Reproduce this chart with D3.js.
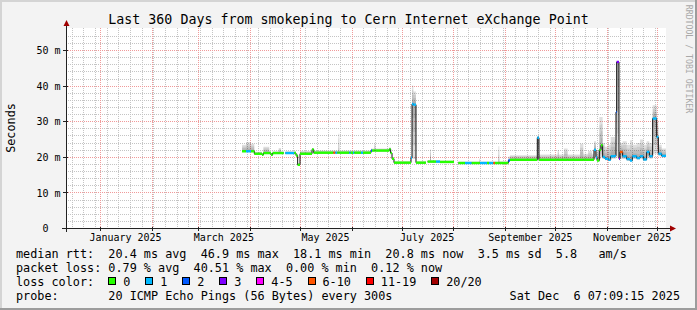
<!DOCTYPE html>
<html lang="en">
<head>
<meta charset="utf-8">
<title>smokeping</title>
<script src="https://d3js.org/d3.v7.min.js"></script>
<style>
  body { margin: 0; background: #fff; }
  text { font-family: "DejaVu Sans Mono", monospace; fill: #000; }
</style>
</head>
<body>
<script>
// data: sample start time, median rtt (ms), loss class, smoke extent (ms)
const dates = [
  "2025-03-26T22", "2025-03-29T07", "2025-04-01T07", "2025-04-03T07", "2025-04-07T22",
  "2025-04-08T17", "2025-04-12T07", "2025-04-13T07", "2025-04-14T07", "2025-04-17T22",
  "2025-04-19T07", "2025-04-20T22", "2025-04-21T22", "2025-04-27T07", "2025-04-28T07",
  "2025-04-29T07", "2025-04-30T17", "2025-05-07T22", "2025-05-08T22", "2025-05-20T17",
  "2025-05-21T22", "2025-05-23T02", "2025-05-23T17", "2025-05-24T07", "2025-05-30T07",
  "2025-05-31T02", "2025-06-01T12", "2025-06-02T07", "2025-06-06T07", "2025-06-07T12",
  "2025-06-12T07", "2025-06-12T22", "2025-06-14T07", "2025-06-14T22", "2025-06-23T07",
  "2025-06-24T02", "2025-06-24T22", "2025-06-26T02", "2025-07-06T07", "2025-07-06T22",
  "2025-07-07T17", "2025-07-09T07", "2025-07-15T07", "2025-07-16T07", "2025-07-17T17",
  "2025-07-18T07", "2025-07-21T07", "2025-07-23T17", "2025-08-01T02", "2025-08-03T17",
  "2025-08-07T17", "2025-08-11T17", "2025-08-16T07", "2025-08-16T17", "2025-08-20T22",
  "2025-08-22T02", "2025-08-24T17", "2025-08-25T17", "2025-08-27T17", "2025-08-28T07",
  "2025-09-02T17", "2025-09-03T17", "2025-09-20T02", "2025-09-21T02", "2025-10-02T07",
  "2025-10-03T02", "2025-10-06T02", "2025-10-08T07", "2025-10-15T17", "2025-10-17T17",
  "2025-10-20T12", "2025-10-22T22", "2025-10-24T02", "2025-10-25T07", "2025-10-25T22",
  "2025-10-27T07", "2025-10-28T07", "2025-10-29T07", "2025-10-30T17", "2025-11-01T17",
  "2025-11-03T02", "2025-11-05T17", "2025-11-06T07", "2025-11-06T17", "2025-11-08T02",
  "2025-11-08T17", "2025-11-10T07", "2025-11-12T17", "2025-11-14T17", "2025-11-16T02",
  "2025-11-18T17", "2025-11-20T17", "2025-11-22T17", "2025-11-24T17", "2025-11-26T07",
  "2025-11-28T07", "2025-11-30T17", "2025-12-01T17", "2025-12-03T17"
]
const median = [
  21.7, 21.7, 21.7, 21.0, 20.7, 21.2, 21.2, 20.7, 21.2, 21.2,
  21.2, null, 21.2, 21.2, 20.5, 17.9, 21.0, 22.2, 21.3, 21.3,
  21.3, 21.3, 21.3, 21.3, 21.3, 21.3, 21.3, 21.3, 21.3, 21.3,
  21.9, 21.9, 21.9, 21.9, 22.3, 21.2, 19.6, 18.5, 19.9, 35.0,
  34.8, 18.5, null, 18.8, 18.8, 18.8, 18.8, 18.7, null, 18.4,
  18.4, 18.4, 18.4, 18.4, 18.4, 18.4, 18.4, 18.4, 18.4, 18.4,
  19.1, 19.3, 25.5, 19.3, 19.3, 19.3, 19.3, 19.3, 19.3, 19.3,
  19.3, 19.3, 22.1, 20.0, 19.1, 22.1, 23.4, 20.1, 19.6, 19.3,
  20.3, 20.4, 32.7, 46.8, 19.6, 21.5, 20.3, 19.5, 19.1, 20.3,
  19.8, 20.3, 19.4, 21.5, 20.3, 30.9, 25.7, 21.0, 20.4
]
const loss = [
  0, 1, 0, 0, 0, 0, 0, 0, 0, 0,
  0, 0, 1, 0, 0, 0, 0, 0, 0, 5,
  1, 0, 0, 0, 1, 0, 1, 0, 1, 0,
  2, 0, 0, 0, 0, 0, 0, 0, 1, 1,
  1, 0, 0, 0, 0, 0, 1, 0, 0, 0,
  1, 0, 0, 1, 0, 1, 5, 0, 0, 0,
  2, 0, 1, 0, 0, 0, 0, 0, 0, 0,
  0, 0, 1, 1, 0, 0, 0, 1, 1, 1,
  1, 1, 2, 3, 3, 5, 1, 1, 1, 1,
  1, 1, 1, 1, 1, 1, 1, 1, 1
]
const smokeLow = [
  21.4, 21.4, 21.4, 20.7, 20.4, 20.9, 20.9, 20.4, 20.9, 20.9,
  20.9, null, 20.9, 20.9, 20.2, 17.6, 20.7, 21.9, 21.0, 21.0,
  21.0, 21.0, 21.0, 21.0, 21.0, 21.0, 21.0, 21.0, 21.0, 21.0,
  21.6, 21.6, 21.6, 21.6, 22.0, 20.9, 19.3, 18.2, 19.6, 19.5,
  19.5, 18.2, null, 18.5, 18.5, 18.5, 18.5, 18.4, null, 18.1,
  18.1, 18.1, 18.1, 18.1, 18.1, 18.1, 18.1, 18.1, 18.1, 18.1,
  18.8, 19.0, 19.3, 19.0, 19.0, 19.0, 19.0, 19.0, 19.0, 19.0,
  19.0, 19.0, 19.5, 19.5, 18.8, 19.5, 20.0, 19.5, 19.2, 19.0,
  19.6, 19.6, 20.0, 20.0, 19.2, 19.5, 19.5, 19.0, 18.8, 19.5,
  19.3, 19.6, 19.0, 20.0, 19.6, 21.0, 21.0, 20.3, 20.0
]
const smokeHigh = [
  23.5, 24.3, 23.8, 21.6, 21.2, 23.0, 21.7, 21.2, 21.7, 22.6,
  21.7, null, 21.7, 21.7, 21.0, 18.4, 21.8, 22.6, 21.9, 21.9,
  21.9, 21.9, 26.6, 21.9, 21.9, 21.9, 21.9, 21.9, 21.9, 21.9,
  22.5, 22.5, 24.0, 22.5, 22.8, 21.6, 20.0, 18.9, 20.3, 40.2,
  38.5, 18.9, null, 19.2, 22.2, 19.2, 19.2, 19.1, null, 18.8,
  18.8, 18.8, 19.6, 18.8, 18.8, 18.8, 18.8, 18.8, 23.1, 18.9,
  20.2, 20.6, 26.0, 20.8, 22.0, 20.8, 22.5, 20.8, 23.8, 21.0,
  21.8, 21.0, 24.5, 21.5, 22.0, 31.3, 31.3, 24.0, 23.0, 23.5,
  25.7, 25.0, 36.0, 46.9, 22.0, 24.0, 24.5, 23.5, 24.8, 23.5,
  24.0, 25.0, 23.5, 24.5, 24.0, 34.6, 30.0, 23.5, 22.5
]

const lossLabels = ["0", "1", "2", "3", "4-5", "6-10", "11-19", "20/20"]
const lossColors = ["#26ff00", "#00b8ff", "#0059ff", "#7e00ff", "#ff00ff", "#ff5500", "#ff0000", "#a10000"]
const yTicks = [0, 10, 20, 30, 40, 50]

const legendRtt = "median rtt:  20.4 ms avg  46.9 ms max  18.1 ms min  20.8 ms now  3.5 ms sd  5.8   am/s"
const legendLoss = "packet loss: 0.79 % avg  40.51 % max  0.00 % min  0.12 % now"
const legendProbe = "probe:       20 ICMP Echo Pings (56 Bytes) every 300s"
const stamp = "Sat Dec  6 07:09:15 2025"

const W = 697, H = 310
const m = { left: 66, right: 666, top: 28, bottom: 228 }
const startTime = new Date("2024-12-11T07:09:15Z")
const endTime = new Date("2025-12-06T07:09:15Z")

// keep runs of spaces in the fixed-width legend
const keep = s => s.replace(/ /g, "\u00a0")

const svg = d3.select("body").append("svg")
  .attr("width", W)
  .attr("height", H)

// background + frame
svg.append("rect").attr("width", W).attr("height", H).attr("fill", "#f3f3f3")
svg.append("rect").attr("x", 0).attr("y", 0).attr("width", W).attr("height", 2).attr("fill", "#d4d4d4")
svg.append("rect").attr("x", 0).attr("y", 0).attr("width", 2).attr("height", H).attr("fill", "#d4d4d4")
svg.append("rect").attr("x", 0).attr("y", H - 2).attr("width", W).attr("height", 2).attr("fill", "#9c9c9c")
svg.append("rect").attr("x", W - 2).attr("y", 0).attr("width", 2).attr("height", H).attr("fill", "#9c9c9c")

const x = d3.scaleUtc().domain([startTime, endTime]).range([m.left, m.right])
const y = d3.scaleLinear().domain([0, 56.2]).range([m.bottom + 0.5, m.top + 0.5])
const px = v => Math.round(v - 0.5) + 0.5

svg.append("rect")
  .attr("x", m.left).attr("y", m.top)
  .attr("width", m.right - m.left).attr("height", m.bottom - m.top + 1)
  .attr("fill", "#fff")

const grid = svg.append("g").attr("fill", "none").attr("stroke-width", 1).attr("stroke-dasharray", "1,1")

// minor grid
d3.utcSunday.range(startTime, endTime).forEach(function (d) {
  grid.append("line")
    .attr("x1", px(x(d))).attr("x2", px(x(d)))
    .attr("y1", m.top).attr("y2", m.bottom)
    .attr("stroke", "#c4c4c4")
})
d3.range(2, 56, 2).filter(v => v % 10 != 0).forEach(function (v) {
  grid.append("line")
    .attr("x1", m.left).attr("x2", m.right)
    .attr("y1", px(y(v))).attr("y2", px(y(v)))
    .attr("stroke", "#c4c4c4")
})

// major grid
d3.utcMonth.range(startTime, endTime).forEach(function (d) {
  grid.append("line")
    .attr("x1", px(x(d))).attr("x2", px(x(d)))
    .attr("y1", m.top).attr("y2", m.bottom)
    .attr("stroke", "#f09a9a")
})
yTicks.filter(v => v > 0).forEach(function (v) {
  grid.append("line")
    .attr("x1", m.left).attr("x2", m.right)
    .attr("y1", px(y(v))).attr("y2", px(y(v)))
    .attr("stroke", "#f09a9a")
})

// series
const parse = d3.utcParse("%Y-%m-%dT%H")
const pts = dates.map(function (d, i) {
  return { t: parse(d), m: median[i], lo: smokeLow[i], hi: smokeHigh[i], c: loss[i] }
})
pts.forEach(function (p, i) {
  p.t2 = i + 1 < pts.length ? pts[i + 1].t : endTime
})

// expand into step points so each sample holds its value until the next one
const steps = []
pts.forEach(function (p) {
  if (p.m == null) {
    steps.push({ gap: true })
  } else {
    steps.push({ t: p.t, m: p.m, lo: p.lo, hi: p.hi })
    steps.push({ t: p.t2, m: p.m, lo: p.lo, hi: p.hi })
  }
})

// smoke: nested bands, darker towards the median
const smokeG = svg.append("g")
for (let k = 0; k < 4; k++) {
  const f = 1 - k / 4
  const area = d3.area()
    .defined(d => !d.gap)
    .x(d => x(d.t))
    .y0(d => y(d.m - (d.m - d.lo) * f))
    .y1(d => y(d.m + (d.hi - d.m) * f))
  smokeG.append("path")
    .attr("d", area(steps))
    .attr("fill", "#000")
    .attr("fill-opacity", k == 0 ? 0.13 : 0.08)
}

const medLine = d3.line()
  .defined(d => !d.gap)
  .x(d => x(d.t))
  .y(d => y(d.m))

svg.append("path")
  .attr("d", medLine(steps))
  .attr("fill", "none")
  .attr("stroke", "#111")
  .attr("stroke-width", 1)

svg.append("g").selectAll("line")
  .data(pts.filter(p => p.m != null))
  .enter()
  .append("line")
  .attr("x1", d => x(d.t))
  .attr("x2", d => x(d.t2))
  .attr("y1", d => y(d.m))
  .attr("y2", d => y(d.m))
  .attr("stroke", d => lossColors[d.c])
  .attr("stroke-width", 2.4)

// axes
const axis = svg.append("g").attr("stroke", "#222").attr("shape-rendering", "crispEdges")
axis.append("line").attr("x1", m.left - 4).attr("x2", m.right + 5).attr("y1", m.bottom + 0.5).attr("y2", m.bottom + 0.5)
axis.append("line").attr("x1", m.left + 0.5).attr("x2", m.left + 0.5).attr("y1", m.bottom + 4).attr("y2", m.top - 4)
d3.utcMonth.range(startTime, endTime).forEach(function (d) {
  axis.append("line")
    .attr("x1", px(x(d))).attr("x2", px(x(d)))
    .attr("y1", m.bottom - 1).attr("y2", m.bottom + 3)
})
yTicks.forEach(function (v) {
  axis.append("line")
    .attr("x1", m.left - 3).attr("x2", m.left + 2)
    .attr("y1", px(y(v))).attr("y2", px(y(v)))
})
svg.append("path")
  .attr("d", `M${m.left - 2.5},${m.top - 2}L${m.left + 3.5},${m.top - 2}L${m.left + 0.5},${m.top - 8}Z`)
  .attr("fill", "#a00000")
svg.append("path")
  .attr("d", `M${m.right + 4},${m.bottom - 2.5}L${m.right + 4},${m.bottom + 3.5}L${m.right + 10},${m.bottom + 0.5}Z`)
  .attr("fill", "#a00000")

// tick labels
const fmtMonth = d3.utcFormat("%B %Y")
d3.utcMonth.every(2).range(new Date("2025-01-01T00:00:00Z"), endTime).forEach(function (d) {
  svg.append("text")
    .attr("x", x(d3.utcDay.offset(d, 15)))
    .attr("y", 241)
    .attr("text-anchor", "middle")
    .attr("font-size", "10px")
    .text(fmtMonth(d))
})
yTicks.forEach(function (v) {
  svg.append("text")
    .attr("x", v == 0 ? 48.5 : 60.5)
    .attr("y", y(v) + 3.7)
    .attr("text-anchor", "end")
    .attr("font-size", "10px")
    .text(v == 0 ? "0" : keep(v + " m"))
})

// titles
svg.append("text")
  .attr("x", W / 2)
  .attr("y", 24)
  .attr("text-anchor", "middle")
  .attr("font-size", "13.3px")
  .text("Last 360 Days from smokeping to Cern Internet eXchange Point")

svg.append("text")
  .attr("transform", "translate(14.5,128) rotate(-90)")
  .attr("text-anchor", "middle")
  .attr("font-size", "11.8px")
  .text("Seconds")

svg.append("text")
  .attr("transform", "translate(685.5,59) rotate(90)")
  .attr("text-anchor", "middle")
  .attr("font-size", "8.2px")
  .style("fill", "#a8a8a8")
  .text("RRDTOOL / TOBI OETIKER")

// legend
const cw = 7.1
const legend = svg.append("g").attr("font-size", "11.8px")
legend.append("text").attr("x", 16).attr("y", 258).text(keep(legendRtt))
legend.append("text").attr("x", 16).attr("y", 272).text(keep(legendLoss))
legend.append("text").attr("x", 16).attr("y", 286).text("loss color:")
legend.append("text").attr("x", 16).attr("y", 300).text(keep(legendProbe))
legend.append("text").attr("x", 680).attr("y", 300).attr("text-anchor", "end").text(keep(stamp))

let bx = 16 + 13 * cw
lossLabels.forEach(function (lab, i) {
  legend.append("rect")
    .attr("x", Math.round(bx) + 0.5).attr("y", 277.5)
    .attr("width", 7).attr("height", 7)
    .attr("fill", lossColors[i])
    .attr("stroke", "#000")
  legend.append("text").attr("x", bx + 15).attr("y", 286).text(lab)
  bx = bx + 15 + lab.length * cw + 14.9
})
</script>
</body>
</html>
